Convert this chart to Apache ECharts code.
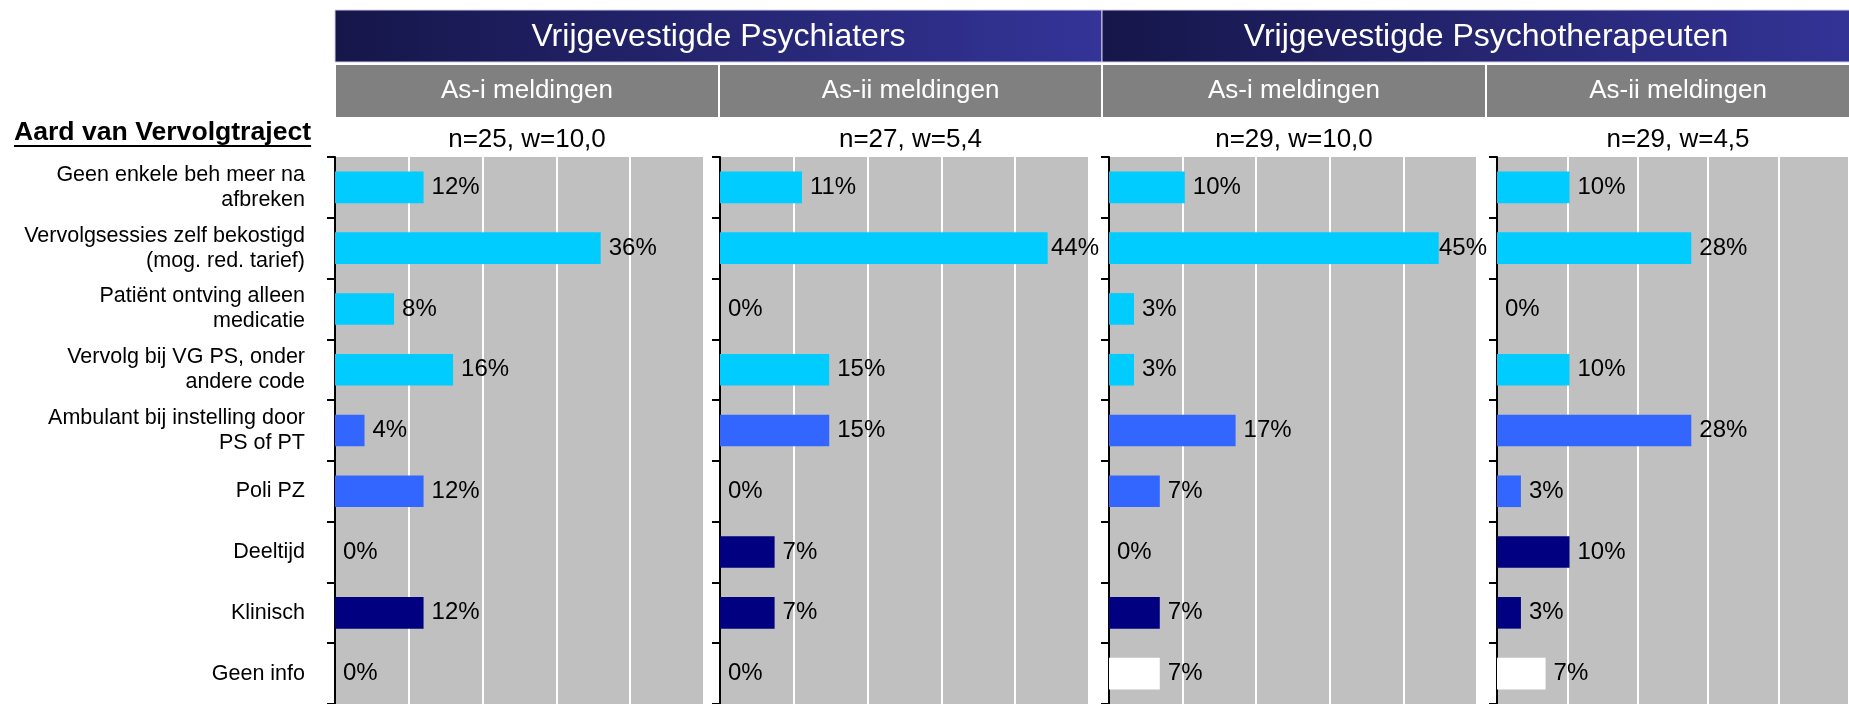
<!DOCTYPE html>
<html>
<head>
<meta charset="utf-8">
<script src="https://cdn.jsdelivr.net/npm/echarts@6/dist/echarts.min.js"></script>
<style>
html,body{margin:0;padding:0;background:#fff;}
#chart{width:1849px;height:704px;}
</style>
</head>
<body>
<div id="chart"></div>
<script>
// ---------- data ----------
const categories = [
  'Geen enkele beh meer na\nafbreken',
  'Vervolgsessies zelf bekostigd\n(mog. red. tarief)',
  'Patiënt ontving alleen\nmedicatie',
  'Vervolg bij VG PS, onder\nandere code',
  'Ambulant bij instelling door\nPS of PT',
  'Poli PZ',
  'Deeltijd',
  'Klinisch',
  'Geen info'
];
const groupTitles = ['Vrijgevestigde Psychiaters', 'Vrijgevestigde Psychotherapeuten'];
const subTitles = ['As-i meldingen', 'As-ii meldingen', 'As-i meldingen', 'As-ii meldingen'];
const sampleLabels = ['n=25, w=10,0', 'n=27, w=5,4', 'n=29, w=10,0', 'n=29, w=4,5'];
const axisTitle = 'Aard van Vervolgtraject';

const psychiatersAsI   = [12, 36, 8, 16, 4, 12, 0, 12, 0];
const psychiatersAsII  = [11.1, 44.4, 0, 14.8, 14.8, 0, 7.4, 7.4, 0];
const therapeutenAsI   = [10.3, 44.8, 3.4, 3.4, 17.2, 6.9, 0, 6.9, 6.9];
const therapeutenAsII  = [10.3, 27.6, 0, 10.3, 27.6, 3.4, 10.3, 3.4, 6.9];
const panelValues = [psychiatersAsI, psychiatersAsII, therapeutenAsI, therapeutenAsII];

const axisMax = 50;
const axisInterval = 10;

// ---------- style / layout ----------
const categoryColors = ['#00CCFF','#00CCFF','#00CCFF','#00CCFF','#3366FF','#3366FF','#000080','#000080','#FFFFFF'];
const FONT = '"Liberation Sans", Arial, sans-serif';
const panelLeft = [335, 720, 1109, 1497];
const panelWidth = [369, 369, 368, 369];
const plotTop = 157, plotHeight = 551;
const subHeaderEdges = [335, 719, 1102, 1486, 1870];
const groupEdges = [335, 1102, 1870];

const chart = echarts.init(document.getElementById('chart'), null, {renderer: 'canvas'});

const grids = [], xAxes = [], yAxes = [], series = [];
panelValues.forEach((vals, i) => {
  grids.push({
    left: panelLeft[i], top: plotTop, width: panelWidth[i], height: plotHeight,
    show: true, backgroundColor: '#C0C0C0', borderWidth: 0, containLabel: false
  });
  xAxes.push({
    type: 'value', gridIndex: i, min: 0, max: axisMax, interval: axisInterval,
    axisLabel: {show: false}, axisLine: {show: false}, axisTick: {show: false},
    splitLine: {show: true, lineStyle: {color: '#FFFFFF', width: 2}}
  });
  yAxes.push({
    type: 'category', gridIndex: i, data: categories, inverse: true,
    axisLine: {show: true, lineStyle: {color: '#000', width: 2}},
    axisTick: {show: true, length: 8, inside: false, lineStyle: {color: '#000', width: 2}},
    axisLabel: {
      show: i === 0, color: '#000', fontSize: 21.5, lineHeight: 25, fontFamily: FONT,
      margin: 30, align: 'right', padding: [0, 0, 6, 0]
    },
    splitLine: {show: false}
  });
  const w = panelWidth[i];
  series.push({
    type: 'bar', xAxisIndex: i, yAxisIndex: i, barWidth: '52%', silent: true,
    animation: false,
    data: vals.map((v, k) => {
      const barEnd = v / axisMax * w;
      const avail = w + 10 - barEnd - 48;
      return {
        value: v,
        itemStyle: {color: categoryColors[k]},
        label: {distance: Math.max(0, Math.min(8, avail))}
      };
    }),
    label: {
      show: true, position: 'right', color: '#000', fontSize: 24, fontFamily: FONT,
      formatter: p => Math.round(p.value) + '%'
    }
  });
});

// ---------- headers ----------
const graphics = [];
groupTitles.forEach((t, g) => {
  const x0 = groupEdges[g], x1 = groupEdges[g + 1];
  graphics.push({
    type: 'rect', shape: {x: x0, y: 10, width: x1 - x0, height: 52}, silent: true,
    style: {
      fill: new echarts.graphic.LinearGradient(0, 0, 1, 0, [
        {offset: 0, color: '#16164A'}, {offset: 1, color: '#343499'}
      ]),
      stroke: '#D0D0E4', lineWidth: 1
    }
  });
  graphics.push({
    type: 'text', x: (x0 + x1) / 2, y: 37, silent: true,
    style: {text: t, fill: '#FFFFFF', font: '32px ' + FONT,
      align: 'center', verticalAlign: 'middle', textAlign: 'center', textVerticalAlign: 'middle'}
  });
});
subTitles.forEach((t, i) => {
  const x0 = subHeaderEdges[i], x1 = subHeaderEdges[i + 1];
  graphics.push({
    type: 'rect', shape: {x: x0, y: 64, width: x1 - x0, height: 54}, silent: true,
    style: {fill: '#808080', stroke: '#FFFFFF', lineWidth: 2}
  });
  graphics.push({
    type: 'text', x: (x0 + x1) / 2, y: 91, silent: true,
    style: {text: t, fill: '#FFFFFF', font: '26px ' + FONT,
      align: 'center', verticalAlign: 'middle', textAlign: 'center', textVerticalAlign: 'middle'}
  });
  graphics.push({
    type: 'text', x: (x0 + x1) / 2, y: 140, silent: true,
    style: {text: sampleLabels[i], fill: '#000000', font: '26px ' + FONT,
      align: 'center', verticalAlign: 'middle', textAlign: 'center', textVerticalAlign: 'middle'}
  });
});
// axis title with underline
const titleFont = 'bold 26.6px ' + FONT;
const mctx = document.createElement('canvas').getContext('2d');
mctx.font = titleFont;
const titleW = mctx.measureText(axisTitle).width;
graphics.push({
  type: 'text', x: 14, y: 133, silent: true,
  style: {text: axisTitle, fill: '#000', font: titleFont,
    align: 'left', verticalAlign: 'middle', textAlign: 'left', textVerticalAlign: 'middle'}
});
graphics.push({
  type: 'rect', shape: {x: 14, y: 145, width: titleW, height: 2}, silent: true,
  style: {fill: '#000'}
});

chart.setOption({
  animation: false,
  backgroundColor: '#FFFFFF',
  grid: grids,
  xAxis: xAxes,
  yAxis: yAxes,
  series: series,
  graphic: {elements: graphics}
});
</script>
</body>
</html>
